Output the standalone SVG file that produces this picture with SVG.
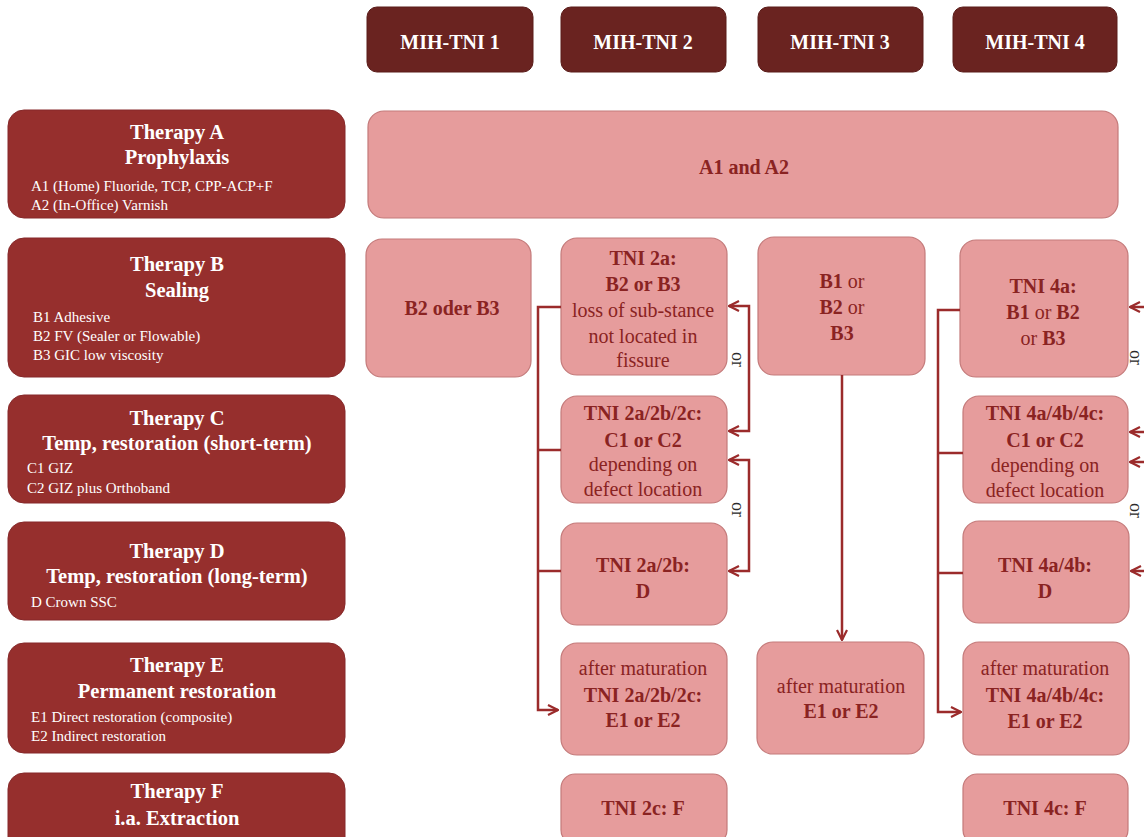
<svg xmlns="http://www.w3.org/2000/svg" width="1144" height="837" viewBox="0 0 1144 837">
<defs>
<style>
.hdr{fill:#6a2320;stroke:#5a1c19;stroke-width:1}
.hdrt{font-family:"Liberation Serif",serif;font-weight:bold;font-size:20px;fill:#ffffff;text-anchor:middle}
.ther{fill:#962f2d;stroke:#86292a;stroke-width:1}
.tt{font-family:"Liberation Serif",serif;font-weight:bold;font-size:20.5px;fill:#ffffff;text-anchor:middle}
.ts{font-family:"Liberation Serif",serif;font-size:15px;fill:#ffffff}
.pk{fill:#e69c9c;stroke:#c47a7a;stroke-width:1.2}
.pt{font-family:"Liberation Serif",serif;font-size:20px;fill:#8a2322;text-anchor:middle}
.b{font-weight:bold}
.con{fill:none;stroke:#9b2b2b;stroke-width:2.5}
.or{font-family:"Liberation Serif",serif;font-size:18px;fill:#2a2a2a}
</style>
<marker id="ah" viewBox="0 0 12 12" refX="11" refY="6" markerWidth="12" markerHeight="12" markerUnits="userSpaceOnUse" orient="auto-start-reverse">
<path d="M1,1 L11,6 L1,11" fill="none" stroke="#9b2b2b" stroke-width="2.2"/>
</marker>
</defs>
<rect width="1144" height="837" fill="#ffffff"/>

<g id="header-1"><rect class="hdr" x="367" y="7" width="166" height="65" rx="10"/><text class="hdrt" x="450" y="49">MIH-TNI 1</text></g>
<g id="header-2"><rect class="hdr" x="561" y="7" width="165" height="65" rx="10"/><text class="hdrt" x="643" y="49">MIH-TNI 2</text></g>
<g id="header-3"><rect class="hdr" x="758" y="7" width="165" height="65" rx="10"/><text class="hdrt" x="840" y="49">MIH-TNI 3</text></g>
<g id="header-4"><rect class="hdr" x="953" y="7" width="164" height="65" rx="10"/><text class="hdrt" x="1035" y="49">MIH-TNI 4</text></g>

<g id="therapy-a"><rect class="ther" x="8" y="110" width="337" height="108" rx="16"/>
<text class="tt" x="177" y="139">Therapy A</text><text class="tt" x="177" y="164">Prophylaxis</text>
<text class="ts" x="31" y="191">A1 (Home) Fluoride, TCP, CPP-ACP+F</text><text class="ts" x="31" y="210">A2 (In-Office) Varnish</text></g>
<g id="therapy-b"><rect class="ther" x="8" y="238" width="337" height="139" rx="16"/>
<text class="tt" x="177" y="271">Therapy B</text><text class="tt" x="177" y="297">Sealing</text>
<text class="ts" x="33" y="322">B1 Adhesive</text><text class="ts" x="33" y="341">B2 FV (Sealer or Flowable)</text><text class="ts" x="33" y="360">B3 GIC low viscosity</text></g>
<g id="therapy-c"><rect class="ther" x="8" y="395" width="337" height="108" rx="16"/>
<text class="tt" x="177" y="425">Therapy C</text><text class="tt" x="177" y="450">Temp, restoration (short-term)</text>
<text class="ts" x="27" y="473">C1 GIZ</text><text class="ts" x="27" y="493">C2 GIZ plus Orthoband</text></g>
<g id="therapy-d"><rect class="ther" x="8" y="522" width="337" height="98" rx="16"/>
<text class="tt" x="177" y="558">Therapy D</text><text class="tt" x="177" y="583">Temp, restoration (long-term)</text>
<text class="ts" x="31" y="607">D Crown SSC</text></g>
<g id="therapy-e"><rect class="ther" x="8" y="643" width="337" height="110" rx="16"/>
<text class="tt" x="177" y="672">Therapy E</text><text class="tt" x="177" y="698">Permanent restoration</text>
<text class="ts" x="31" y="722">E1 Direct restoration (composite)</text><text class="ts" x="31" y="741">E2 Indirect restoration</text></g>
<g id="therapy-f"><rect class="ther" x="8" y="773" width="337" height="80" rx="16"/>
<text class="tt" x="177" y="798">Therapy F</text><text class="tt" x="177" y="825">i.a. Extraction</text></g>

<g id="a-all"><rect class="pk" x="368" y="111" width="750" height="107" rx="16"/><text class="pt b" x="744" y="174">A1 and A2</text></g>

<g id="b-1"><rect class="pk" x="366" y="239" width="165" height="138" rx="16"/><text class="pt b" x="452" y="315">B2 oder B3</text></g>
<g id="b-2"><rect class="pk" x="561" y="238" width="166" height="137" rx="16"/>
<text class="pt b" x="643" y="265">TNI 2a:</text><text class="pt b" x="643" y="291">B2 or B3</text>
<text class="pt" x="643" y="317">loss of sub-stance</text><text class="pt" x="643" y="343">not located in</text><text class="pt" x="643" y="367">fissure</text></g>
<g id="b-3"><rect class="pk" x="758" y="237" width="167" height="138" rx="16"/>
<text class="pt" x="842" y="288"><tspan class="b">B1</tspan> or</text><text class="pt" x="842" y="314"><tspan class="b">B2</tspan> or</text><text class="pt b" x="842" y="340">B3</text></g>
<g id="b-4"><rect class="pk" x="960" y="240" width="168" height="137" rx="16"/>
<text class="pt b" x="1043" y="293">TNI 4a:</text><text class="pt" x="1043" y="319"><tspan class="b">B1</tspan> or <tspan class="b">B2</tspan></text><text class="pt" x="1043" y="345">or <tspan class="b">B3</tspan></text></g>

<g id="c-2"><rect class="pk" x="561" y="396" width="166" height="107" rx="16"/>
<text class="pt b" x="643" y="420">TNI 2a/2b/2c:</text><text class="pt b" x="643" y="447">C1 or C2</text>
<text class="pt" x="643" y="471">depending on</text><text class="pt" x="643" y="496">defect location</text></g>
<g id="c-4"><rect class="pk" x="963" y="396" width="165" height="107" rx="16"/>
<text class="pt b" x="1045" y="420">TNI 4a/4b/4c:</text><text class="pt b" x="1045" y="447">C1 or C2</text>
<text class="pt" x="1045" y="472">depending on</text><text class="pt" x="1045" y="497">defect location</text></g>

<g id="d-2"><rect class="pk" x="561" y="523" width="166" height="102" rx="16"/>
<text class="pt b" x="643" y="572">TNI 2a/2b:</text><text class="pt b" x="643" y="598">D</text></g>
<g id="d-4"><rect class="pk" x="963" y="521" width="166" height="102" rx="16"/>
<text class="pt b" x="1045" y="572">TNI 4a/4b:</text><text class="pt b" x="1045" y="598">D</text></g>

<g id="e-2"><rect class="pk" x="561" y="643" width="166" height="112" rx="16"/>
<text class="pt" x="643" y="675">after maturation</text><text class="pt b" x="643" y="702">TNI 2a/2b/2c:</text><text class="pt b" x="643" y="727">E1 or E2</text></g>
<g id="e-3"><rect class="pk" x="757" y="642" width="167" height="112" rx="16"/>
<text class="pt" x="841" y="693">after maturation</text><text class="pt b" x="841" y="718">E1 or E2</text></g>
<g id="e-4"><rect class="pk" x="963" y="642" width="166" height="113" rx="16"/>
<text class="pt" x="1045" y="675">after maturation</text><text class="pt b" x="1045" y="702">TNI 4a/4b/4c:</text><text class="pt b" x="1045" y="728">E1 or E2</text></g>

<g id="f-2"><rect class="pk" x="561" y="774" width="166" height="70" rx="14"/><text class="pt b" x="643" y="815">TNI 2c: F</text></g>
<g id="f-4"><rect class="pk" x="963" y="774" width="165" height="70" rx="14"/><text class="pt b" x="1045" y="815">TNI 4c: F</text></g>

<g id="connectors">
<path class="con" d="M561,307 H538 V710 H558" marker-end="url(#ah)"/>
<path class="con" d="M538,450 H561"/>
<path class="con" d="M538,571 H561"/>
<path class="con" d="M729,306 H749 V431 H729" marker-start="url(#ah)" marker-end="url(#ah)"/>
<path class="con" d="M729,460 H749 V571 H729" marker-start="url(#ah)" marker-end="url(#ah)"/>
<path class="con" d="M842,375 V640" marker-end="url(#ah)"/>
<path class="con" d="M960,310 H938 V712 H961" marker-end="url(#ah)"/>
<path class="con" d="M938,453 H963"/>
<path class="con" d="M938,573 H963"/>
<path class="con" d="M1146,307 H1130" marker-end="url(#ah)"/>
<path class="con" d="M1146,432 H1130" marker-end="url(#ah)"/>
<path class="con" d="M1146,462 H1130" marker-end="url(#ah)"/>
<path class="con" d="M1146,571 H1131" marker-end="url(#ah)"/>
<text class="or" transform="translate(732,352) rotate(90)">or</text>
<text class="or" transform="translate(732,502) rotate(90)">or</text>
<text class="or" transform="translate(1130,350) rotate(90)">or</text>
<text class="or" transform="translate(1130,503) rotate(90)">or</text>
</g>
</svg>
